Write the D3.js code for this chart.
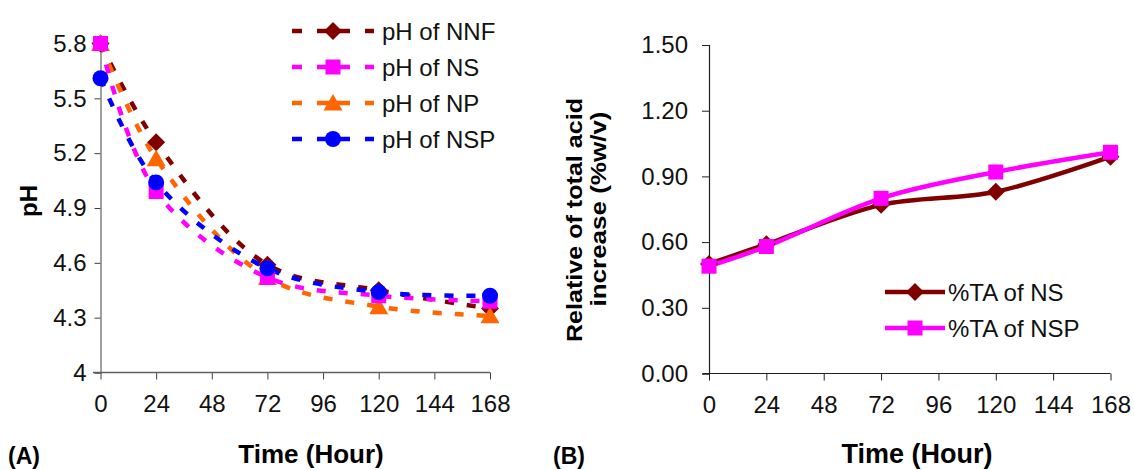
<!DOCTYPE html>
<html>
<head>
<meta charset="utf-8">
<script src="https://cdn.jsdelivr.net/npm/d3@7"></script>
<style>
  html, body { margin: 0; padding: 0; background: #fff; }
  svg { display: block; font-family: "Liberation Sans", Arial, sans-serif; }
</style>
</head>
<body>
<svg id="chart" width="1134" height="470"></svg>
<script>
// Sampling times (hours)
const hours = [0, 24, 72, 120, 168];

// Panel A: pH during fermentation
const phNNF = [5.80, 5.26, 4.59, 4.45, 4.35];
const phNS  = [5.80, 4.99, 4.52, 4.42, 4.39];
const phNP  = [5.80, 5.17, 4.52, 4.36, 4.31];
const phNSP = [5.61, 5.04, 4.57, 4.44, 4.42];

// Panel B: relative total acid increase (%w/v)
const taNS  = [0.50, 0.59, 0.77, 0.83, 0.99];
const taNSP = [0.49, 0.58, 0.80, 0.92, 1.01];

// Axis ticks
const timeTicks = [0, 24, 48, 72, 96, 120, 144, 168];
const phTicks = [4, 4.3, 4.6, 4.9, 5.2, 5.5, 5.8];
const taTicks = [0, 0.3, 0.6, 0.9, 1.2, 1.5];

const seriesA = [
  { name: "pH of NNF", values: phNNF, color: "#800000", marker: "diamond" },
  { name: "pH of NS",  values: phNS,  color: "#FF00FF", marker: "square" },
  { name: "pH of NP",  values: phNP,  color: "#FF6600", marker: "triangle" },
  { name: "pH of NSP", values: phNSP, color: "#0000FF", marker: "circle" }
];
// drawing order (later on top)
const drawOrderA = [0, 2, 1, 3];

const seriesB = [
  { name: "%TA of NS",  values: taNS,  color: "#800000", marker: "diamond" },
  { name: "%TA of NSP", values: taNSP, color: "#FF00FF", marker: "square" }
];

const svg = d3.select("#chart");

function markerPath(type) {
  switch (type) {
    case "diamond": return "M0,-9L9,0L0,9L-9,0Z";
    case "square": return "M-7.5,-7.5H7.5V7.5H-7.5Z";
    case "triangle": return "M0,-9L9.5,7.5H-9.5Z";
    case "circle": return "M8,0A8,8 0 1,1 -8,0A8,8 0 1,1 8,0Z";
  }
}

const curve = d3.curveCatmullRom.alpha(0.5);
const tickFont = 24;

// ---------- Panel A ----------
const xA = d3.scaleLinear().domain([0, 168]).range([100.5, 490]);
const yA = d3.scaleLinear().domain([4, 5.8]).range([372.5, 43.5]);

const gA = svg.append("g");

const yAxisA = d3.axisLeft(yA).tickValues(phTicks).tickSize(6).tickPadding(8)
  .tickFormat(d => String(+d.toFixed(1)));
const axA = gA.append("g").attr("transform", `translate(${xA(0)},0)`).call(yAxisA);
axA.select(".domain").attr("stroke", "#808080").attr("stroke-width", 1.5);
axA.selectAll(".tick line").attr("stroke", "#404040");
axA.selectAll("text").attr("font-size", tickFont).attr("fill", "#111");

const xAxisA = d3.axisBottom(xA).tickValues(timeTicks).tickSize(7).tickPadding(15);
const axXA = gA.append("g").attr("transform", `translate(0,${yA(4)})`).call(xAxisA);
axXA.select(".domain").remove();
axXA.selectAll(".tick line").attr("stroke", "#404040");
axXA.selectAll("text").attr("font-size", tickFont).attr("fill", "#111");
gA.append("line").attr("x1", 93).attr("x2", xA(168)).attr("y1", yA(4)).attr("y2", yA(4))
  .attr("stroke", "#606060").attr("stroke-width", 1.5);

const lineA = d3.line().x((d, i) => xA(hours[i])).y(d => yA(d)).curve(curve);
drawOrderA.forEach(k => {
  const s = seriesA[k];
  gA.append("path").attr("d", lineA(s.values)).attr("fill", "none")
    .attr("stroke", s.color).attr("stroke-width", 4.5).attr("stroke-dasharray", "9,13");
});
drawOrderA.forEach(k => {
  const s = seriesA[k];
  gA.selectAll(null).data(s.values).enter().append("path")
    .attr("d", markerPath(s.marker))
    .attr("transform", (d, i) => `translate(${xA(hours[i])},${yA(d)})`)
    .attr("fill", s.color);
});

// legend A
const legA = gA.append("g");
seriesA.forEach((s, i) => {
  const y = 31 + i * 36;
  legA.append("line").attr("x1", 292).attr("x2", 374).attr("y1", y).attr("y2", y)
    .attr("stroke", s.color).attr("stroke-width", 4.5).attr("stroke-dasharray", "10,15,33,15,9");
  legA.append("path").attr("d", markerPath(s.marker)).attr("transform", `translate(333,${y})`)
    .attr("fill", s.color);
  legA.append("text").attr("x", 382).attr("y", y + 8.5).attr("font-size", 24)
    .attr("fill", "#111").text(s.name);
});

// titles A
gA.append("text").attr("transform", "translate(37,201) rotate(-90)")
  .attr("text-anchor", "middle").attr("font-size", 24).attr("font-weight", "bold").text("pH");
gA.append("text").attr("x", 311).attr("y", 463).attr("text-anchor", "middle")
  .attr("font-size", 26).attr("font-weight", "bold").text("Time (Hour)");
gA.append("text").attr("x", 8).attr("y", 464).attr("font-size", 23)
  .attr("font-weight", "bold").text("(A)");

// ---------- Panel B ----------
const xB = d3.scaleLinear().domain([0, 168]).range([709, 1110.5]);
const yB = d3.scaleLinear().domain([0, 1.5]).range([373.5, 45]);

const gB = svg.append("g");

const yAxisB = d3.axisLeft(yB).tickValues(taTicks).tickSize(7).tickPadding(14)
  .tickFormat(d3.format(".2f"));
const axB = gB.append("g").attr("transform", `translate(${xB(0)},0)`).call(yAxisB);
axB.select(".domain").attr("stroke", "#202020").attr("stroke-width", 1.2);
axB.selectAll(".tick line").attr("stroke", "#202020");
axB.selectAll("text").attr("font-size", tickFont).attr("fill", "#111");

const xAxisB = d3.axisBottom(xB).tickValues(timeTicks).tickSize(7).tickPadding(15);
const axXB = gB.append("g").attr("transform", `translate(0,${yB(0)})`).call(xAxisB);
axXB.select(".domain").remove();
axXB.selectAll(".tick line").attr("stroke", "#202020");
axXB.selectAll("text").attr("font-size", tickFont).attr("fill", "#111");
gB.append("line").attr("x1", 703).attr("x2", xB(168)).attr("y1", yB(0)).attr("y2", yB(0))
  .attr("stroke", "#202020").attr("stroke-width", 1.2);

const lineB = d3.line().x((d, i) => xB(hours[i])).y(d => yB(d)).curve(curve);
seriesB.forEach(s => {
  gB.append("path").attr("d", lineB(s.values)).attr("fill", "none")
    .attr("stroke", s.color).attr("stroke-width", 4.5);
});
seriesB.forEach(s => {
  gB.selectAll(null).data(s.values).enter().append("path")
    .attr("d", markerPath(s.marker))
    .attr("transform", (d, i) => `translate(${xB(hours[i])},${yB(d)})`)
    .attr("fill", s.color);
});

// legend B
seriesB.forEach((s, i) => {
  const y = 292 + i * 36;
  gB.append("line").attr("x1", 885).attr("x2", 945).attr("y1", y).attr("y2", y)
    .attr("stroke", s.color).attr("stroke-width", 4.5);
  gB.append("path").attr("d", markerPath(s.marker)).attr("transform", `translate(915,${y})`)
    .attr("fill", s.color);
  gB.append("text").attr("x", 948).attr("y", y + 8.5).attr("font-size", 24)
    .attr("fill", "#111").text(s.name);
});

// titles B (two-line rotated y title)
gB.append("text").attr("transform", "translate(582,220) rotate(-90)")
  .attr("text-anchor", "middle").attr("font-size", 22).attr("font-weight", "bold")
  .attr("textLength", 244).attr("lengthAdjust", "spacingAndGlyphs")
  .text("Relative of total acid");
gB.append("text").attr("transform", "translate(606,209) rotate(-90)")
  .attr("text-anchor", "middle").attr("font-size", 22).attr("font-weight", "bold")
  .attr("textLength", 195).attr("lengthAdjust", "spacingAndGlyphs")
  .text("increase (%w/v)");
gB.append("text").attr("x", 917).attr("y", 463).attr("text-anchor", "middle")
  .attr("font-size", 27).attr("font-weight", "bold").text("Time (Hour)");
gB.append("text").attr("x", 553).attr("y", 464).attr("font-size", 23)
  .attr("font-weight", "bold").text("(B)");
</script>
</body>
</html>
